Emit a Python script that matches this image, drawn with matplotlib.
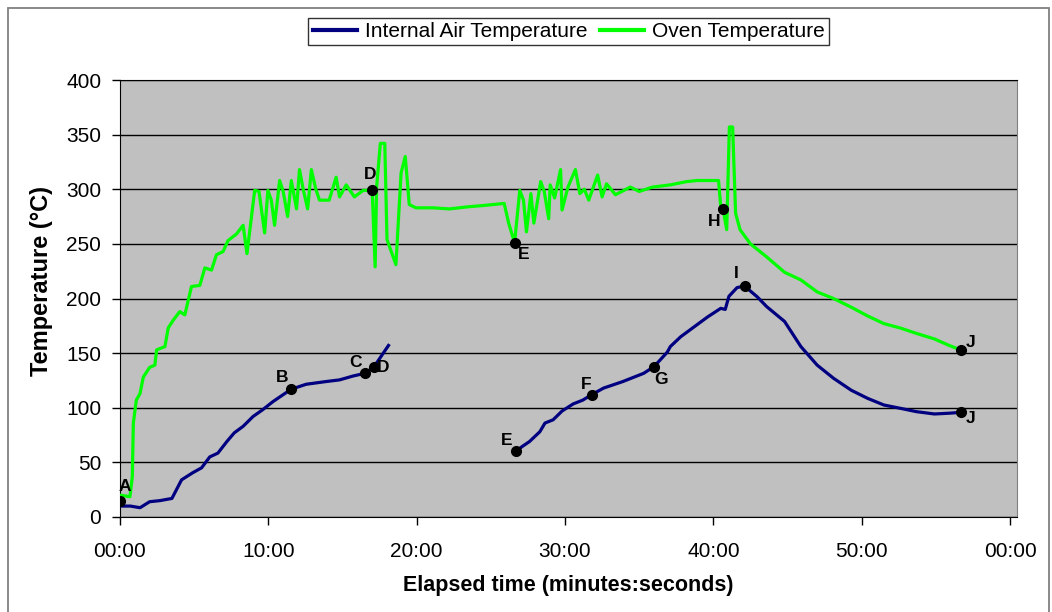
import numpy as np
import matplotlib
matplotlib.use("Agg")
import matplotlib.pyplot as plt
from matplotlib.ticker import FuncFormatter, MultipleLocator
from matplotlib.patches import Rectangle

plt.rcParams["font.family"] = ["Liberation Sans", "DejaVu Sans"]

# oven thermocouple (minutes, degC)
oven_t = [0.0, 0.67, 0.83, 0.9, 1.1, 1.35, 1.57, 2.0, 2.35, 2.47, 3.03, 3.25, 3.58,
          4.03, 4.37, 4.82, 5.38, 5.72, 6.17, 6.5, 6.95, 7.28, 7.85, 8.3, 8.56,
          9.08, 9.37, 9.75, 9.97, 10.2, 10.42, 10.76, 11.0, 11.3, 11.55, 11.9,
          12.1, 12.35, 12.65, 12.9, 13.2, 13.45, 14.1, 14.57, 14.8, 15.25, 15.8,
          16.4, 17.0, 17.2, 17.3, 17.55, 17.85, 18.0, 18.6, 18.95, 19.23, 19.5,
          19.95, 21.1, 22.2, 23.5, 24.4, 25.9, 26.2, 26.6, 26.95, 27.2, 27.4,
          27.7, 27.9, 28.36, 28.6, 28.9, 29.0, 29.3, 29.7, 29.8, 30.2, 30.7,
          31.0, 31.3, 31.6, 32.2, 32.5, 32.8, 33.4, 34.4, 35.0, 35.9, 37.1,
          38.2, 38.9, 40.35, 40.5, 40.65, 40.9, 41.08, 41.3, 41.5, 41.8, 42.5,
          43.6, 44.8, 45.9, 47.0, 48.1, 49.3, 50.4, 51.5, 52.6, 53.7, 54.9,
          55.9, 56.7]
oven_v = [20, 18.6, 37, 86, 107, 113, 128, 137, 139, 153, 156, 173, 180,
          188, 185, 211, 212, 228, 226, 240, 243, 253, 259, 267, 241,
          299, 298, 260, 299, 290, 267, 308, 298, 275, 308, 282,
          318, 300, 282, 318, 300, 290, 290, 311, 293, 304, 293,
          299, 299, 229, 302, 342, 342, 254, 231, 315, 330, 286,
          283, 283, 282, 284, 285, 287, 269, 251, 299, 290, 261,
          296, 269, 307, 298, 273, 304, 292, 318, 281, 302, 318,
          296, 300, 290, 313, 293, 305, 295, 302, 298, 302, 304,
          307, 308, 308, 284, 282, 263, 357, 357, 278, 263, 250,
          238, 224, 217, 206, 200, 192, 184, 177, 173, 168, 163,
          157, 152.8]

# internal air, first run
air1_t = [0.0, 0.7, 1.35, 2.0, 2.7, 3.5, 4.15, 4.9, 5.5, 6.05, 6.6, 7.2, 7.7,
          8.3, 8.97, 9.6, 10.3, 11.0, 11.55, 12.55, 13.9, 14.8, 15.7, 16.5,
          17.1, 18.1]
air1_v = [10, 10, 8.5, 14, 15, 17, 34, 40.5, 45, 55, 58.5, 69, 77,
          83, 92, 98, 105.5, 112, 117, 121.5, 124, 125.5, 129, 131.5,
          137, 157]

# internal air, second run
air2_t = [26.7, 27.1, 27.6, 28.3, 28.65, 29.2, 29.8, 30.55, 31.2, 31.8, 32.6,
          33.9, 35.3, 36.0, 36.9, 37.1, 37.8, 38.7, 39.6, 40.5, 40.8, 41.05,
          41.6, 42.1, 42.95, 43.6, 44.8, 45.9, 47.0, 48.1, 49.3, 50.4, 51.5,
          52.6, 53.7, 54.9, 55.9, 56.7]
air2_v = [60, 64.4, 69, 78, 86, 89, 97, 103.5, 107, 112, 118,
          124, 131.5, 137.6, 151, 156, 165, 174, 183, 191, 190, 202,
          210, 211.4, 201.6, 192.5, 179, 156, 139, 127, 116, 108.6, 102.5,
          99.5, 96.4, 94.3, 95, 95.8]

# lettered events
event_labels = ["A", "B", "C", "D", "D", "E", "E", "F", "G", "H", "I", "J", "J"]
event_t = [0.0, 11.55, 16.5, 17.1, 17.0, 26.7, 26.6, 31.8, 36.0, 40.65, 42.1, 56.7, 56.7]
event_v = [14.6, 117, 131.5, 137, 299, 60, 251, 112, 137.6, 282, 211.4, 95.8, 152.8]

fig = plt.figure(figsize=(10.52, 6.12), dpi=100)
ax = fig.add_axes([120 / 1052, 95 / 612, 897 / 1052, 437 / 612])
ax.set_facecolor("#c0c0c0")

navy = "#000080"
green = "#00ff00"
ax.plot(air1_t, air1_v, color=navy, lw=2.3, label="Internal Air Temperature", zorder=3)
ax.plot(air2_t, air2_v, color=navy, lw=2.3, zorder=3)
ax.plot(oven_t, oven_v, color=green, lw=2.3, label="Oven Temperature", zorder=3)

ax.plot(event_t, event_v, "o", color="black", ms=7, zorder=4)

# label offsets in pixels
offs = [(5, 15), (-9, 12), (-9, 11), (9, 0), (-2, 16), (-9, 11), (9, -12),
        (-6, 10), (7, -13), (-9, -13), (-8, 13), (9, -6), (9, 8)]
for lab, t, v, (dx, dy) in zip(event_labels, event_t, event_v, offs):
    ax.annotate(lab, (t, v), xytext=(dx, dy), textcoords="offset pixels",
                ha="center", va="center", fontsize=12.5, fontweight="bold",
                family=["Liberation Sans Narrow", "Liberation Sans"], zorder=5)

ax.set_xlim(0, 60.47)
ax.set_ylim(0, 400)
ax.xaxis.set_major_locator(MultipleLocator(10))
ax.yaxis.set_major_locator(MultipleLocator(50))
ax.xaxis.set_major_formatter(FuncFormatter(lambda m, p: f"{int(round(m)) % 60:02d}:00"))
ax.grid(axis="y", color="black", lw=1)
ax.set_axisbelow(True)
ax.tick_params(axis="both", direction="out", length=6, width=1, labelsize=15, colors="black")
ax.tick_params(axis="x", pad=12)
ax.tick_params(axis="y", pad=7.5)

for s in ["left", "bottom", "top"]:
    ax.spines[s].set_color("black")
ax.spines["right"].set_color("#808080")

ax.set_xlabel("Elapsed time (minutes:seconds)", fontsize=15.5, fontweight="bold")
ax.xaxis.set_label_coords(0.5, -0.132)
ax.set_ylabel("Temperature (°C)", fontsize=17, fontweight="bold")
ax.yaxis.set_label_coords(-0.075, 0.54)

leg = ax.legend(loc="lower center", bbox_to_anchor=(0.5, 1.08), ncol=2,
                fontsize=15, frameon=True, fancybox=False, edgecolor="black",
                handlelength=2.15, handletextpad=0.35, columnspacing=0.6,
                borderpad=0.2, borderaxespad=0)
leg.get_frame().set_linewidth(1)
for h in leg.get_lines():
    h.set_linewidth(3)

fig.patches.append(Rectangle((8 / 1052, -0.02), 1041 / 1052, 1.0 - 8 / 612 + 0.02,
                             transform=fig.transFigure, fill=False,
                             edgecolor="#808080", lw=1.3))

fig.savefig("out.png", dpi=100)
